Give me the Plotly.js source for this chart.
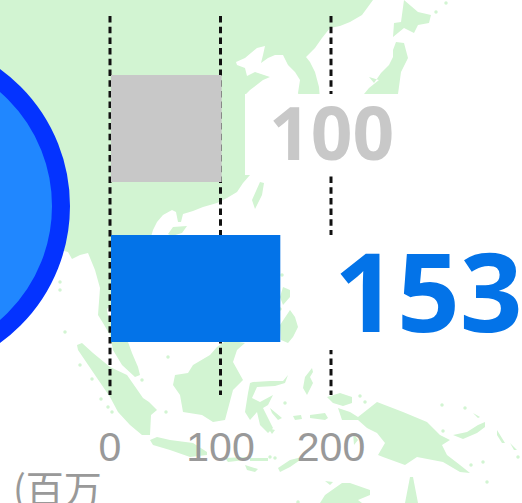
<!DOCTYPE html>
<html>
<head>
<meta charset="utf-8">
<script src="https://cdn.plot.ly/plotly-3.0.1.min.js"></script>
<style>html,body{margin:0;padding:0;background:#fff;overflow:hidden}#c{width:522px;height:503px}</style>
</head>
<body>
<div id="c"></div>
<script>
// Chart values
const categories = ['grey', 'blue'];
const values = [100, 153];
const barColors = ['#C8C8C8', '#0373E8'];
const tickValues = [0, 100, 200];
const unitLabel = '(百万';

// Background map outlines (map coordinates)
const mainland = [[0,0],[373,0],[362,15],[350,22],[340,26],[330,28],[322,38],[315,48],[306,57],[310,62],[315,72],[319,87],[320,100],[300,100],[298,93],[300,80],[295,72],[288,65],[283,55],[275,55],[268,58],[261,63],[263,55],[265,46],[257,48],[245,58],[236,62],[237,65],[245,68],[247,76],[255,72],[270,77],[263,80],[250,90],[245,95],[245,175],[250,175],[243,183],[237,192],[227,198],[217,203],[203,207],[193,211],[183,214],[181,222],[178,222],[176,212],[172,210],[163,215],[157,222],[153,230],[150,240],[125,300],[111,305],[107,309],[108,316],[111,318],[111,342],[128,342],[132,353],[138,367],[140,375],[135,377],[122,365],[113,350],[110,335],[103,323],[98,315],[100,288],[95,270],[88,253],[80,255],[72,259],[68,252],[60,250],[0,250]];
const sumatra = [[77,345],[82,343],[93,353],[110,367],[127,375],[135,387],[143,398],[149,402],[157,410],[151,415],[150,435],[142,435],[130,425],[118,412],[110,397],[97,378],[85,360],[78,350]];
const borneo = [[245,343],[237,350],[233,362],[243,380],[233,390],[225,420],[213,422],[202,415],[183,412],[180,395],[173,385],[175,375],[188,373],[193,365],[210,355],[217,347],[227,340]];
const java = [[150,440],[157,437],[170,440],[193,443],[207,452],[207,455],[190,457],[170,450],[153,445]];
const sunda1 = [[225,458],[247,457],[245,460],[228,462]];
const sunda2 = [[250,458],[268,458],[268,461],[250,461]];
const sunda3 = [[245,465],[258,469],[255,472],[247,470]];
const timor = [[278,468],[290,460],[302,457],[303,458],[290,467],[280,472]];
const sulawesi = [[253,382],[270,381],[283,381],[288,375],[285,383],[275,386],[257,387],[252,398],[260,402],[273,395],[268,405],[263,408],[273,428],[268,433],[260,425],[257,412],[250,420],[245,412],[248,393],[250,383]];
const buton = [[270,408],[282,418],[278,420],[272,413]];
const muna = [[268,428],[275,430],[272,434]];
const halmahera = [[305,377],[312,368],[313,372],[310,377],[313,383],[307,395],[303,388]];
const seram = [[310,415],[325,413],[328,418],[325,420],[310,418]];
const buru = [[293,416],[301,415],[302,419],[295,420]];
const birdsHead = [[327,397],[340,393],[352,397],[352,403],[343,406],[333,403]];
const newGuinea = [[338,408],[350,412],[358,417],[377,402],[403,412],[427,422],[440,435],[450,440],[442,445],[447,455],[460,465],[470,473],[460,472],[443,462],[417,457],[405,465],[383,457],[378,455],[385,443],[377,433],[367,428],[358,420],[342,420]];
const aru = [[353,433],[358,440],[354,445]];
const newBritain = [[453,435],[467,432],[478,425],[485,422],[485,427],[477,433],[463,439]];
const newIreland = [[473,413],[480,417],[478,418]];
const bougainville = [[497,430],[505,443],[502,443],[497,435]];
const guadalcanal = [[510,443],[517,450],[514,450]];
const australia = [[320,503],[325,495],[342,483],[350,483],[370,490],[370,495],[358,500],[362,503]];
const capeYork = [[405,503],[410,477],[413,477],[418,503]];
const tiwi = [[325,481],[333,482],[330,485]];
const mindanao = [[280,325],[290,310],[295,317],[298,327],[293,337],[288,343],[281,340]];
const visayas = [[283,287],[290,290],[290,297],[283,305],[280,297]];
const taiwan = [[260,182],[264,183],[262,195],[255,209],[252,200]];
const hainan = [[173,227],[187,226],[182,233],[172,236],[168,234]];
const hokkaido = [[404,0],[418,12],[431,15],[429,23],[418,25],[414,33],[404,28],[393,37],[394,23],[401,22]];
const honshu = [[393,50],[396,42],[404,43],[408,58],[401,72],[398,94],[364,94],[369,88],[379,80],[369,77],[374,83],[381,73],[389,65],[393,57]];
const landShapes = [mainland, sumatra, borneo, java, sunda1, sunda2, sunda3, timor, sulawesi, buton, muna, halmahera, seram, buru, birdsHead, newGuinea, aru, newBritain, newIreland, bougainville, guadalcanal, australia, capeYork, tiwi, mindanao, visayas, taiwan, hainan, hokkaido, honshu];
const isletX = [60,60,65,80,92,101,108,112,142,168,166,285,360,365,442,465,471,443,483,487,518,446,436,282,280,270,275,298];
const isletY = [282,290,332,365,379,399,407,412,380,357,412,403,396,402,405,408,465,431,462,482,457,3,12,275,309,457,458,502];

// Layout constants (pixels of the 522x503 figure)
const gridTop = 16, gridBottom = 395;
const gridRange = [-99.55, 372.85];
const barRange = [-100.3, 371.4];
const landColor = '#D2F4D2';

const landX = [], landY = [];
landShapes.forEach(s => { s.forEach(p => { landX.push(p[0]); landY.push(p[1]); }); landX.push(s[0][0]); landY.push(s[0][1]); landX.push(null); landY.push(null); });
const gridX = [], gridY = [];
tickValues.forEach(v => { gridX.push(v, v, null); gridY.push(gridTop, gridBottom, null); });

const traces = [
  {type:'scatter', mode:'lines', x:landX, y:landY, fill:'toself', fillcolor:landColor, line:{width:0, color:landColor}, xaxis:'x', yaxis:'y', hoverinfo:'skip', showlegend:false},
  {type:'scatter', mode:'markers', x:isletX, y:isletY, marker:{size:3.5, color:landColor}, xaxis:'x', yaxis:'y', hoverinfo:'skip', showlegend:false},
  {type:'scatter', mode:'lines', x:gridX, y:gridY, line:{color:'#111', width:3, dash:'6.5px,4.2px'}, xaxis:'x2', yaxis:'y2', hoverinfo:'skip', showlegend:false},
  {type:'bar', orientation:'h', x:values, y:categories, marker:{color:barColors, line:{width:0}}, xaxis:'x3', yaxis:'y3', hoverinfo:'skip', showlegend:false}
];

const hidden = {showgrid:false, zeroline:false, showticklabels:false, ticks:'', showline:false, fixedrange:true};
const layout = {
  width:522, height:503, margin:{l:0, r:0, t:0, b:0, pad:0},
  paper_bgcolor:'#fff', plot_bgcolor:'#fff', showlegend:false, bargap:0.33,
  xaxis:Object.assign({range:[0,522], domain:[0,1]}, hidden),
  yaxis:Object.assign({range:[503,0], domain:[0,1]}, hidden),
  xaxis2:{range:gridRange, overlaying:'x', anchor:'free', position:(503-gridBottom)/503, tickmode:'array', tickvals:tickValues, ticktext:tickValues.map(String), showgrid:false, zeroline:false, showline:false, ticks:'', ticklabelstandoff:24, tickfont:{family:'Liberation Sans, Arial, sans-serif', size:41, color:'#999'}, fixedrange:true},
  yaxis2:Object.assign({range:[503,0], overlaying:'y'}, hidden),
  xaxis3:Object.assign({range:barRange, overlaying:'x'}, hidden),
  yaxis3:Object.assign({type:'category', categoryorder:'array', categoryarray:categories, range:[2.3406,-0.8031], overlaying:'y'}, hidden),
  shapes:[
    {type:'circle', xref:'x', yref:'y', x0:-259, x1:61, y0:46, y1:366, line:{color:'#0433FF', width:18}, fillcolor:'#2087FF', layer:'above'},
    {type:'rect', xref:'x', yref:'y', x0:245, x1:419, y0:94, y1:175, line:{width:0}, fillcolor:'#fff', layer:'above'},
    {type:'rect', xref:'x', yref:'y', x0:298, x1:522, y0:235, y1:350, line:{width:0}, fillcolor:'#fff', layer:'above'}
  ],
  annotations:[
    {xref:'paper', yref:'paper', x:331/522, y:1-131/503, xanchor:'center', yanchor:'middle', borderpad:0, showarrow:false, text:String(values[0]), font:{family:'Open Sans', size:73, weight:700, color:barColors[0]}},
    {xref:'paper', yref:'paper', x:1, xshift:2, y:1-289/503, xanchor:'right', yanchor:'middle', borderpad:0, showarrow:false, text:String(values[1]), font:{family:'Open Sans', size:110, weight:700, color:barColors[1]}},
    {xref:'paper', yref:'paper', x:12/522, y:1-458/503, xanchor:'left', yanchor:'top', showarrow:false, borderpad:0, text:unitLabel, font:{family:'Noto Sans CJK JP', size:38, color:'#999'}}
  ]
};
Plotly.newPlot('c', traces, layout, {staticPlot:true, displayModeBar:false});
</script>
</body>
</html>
